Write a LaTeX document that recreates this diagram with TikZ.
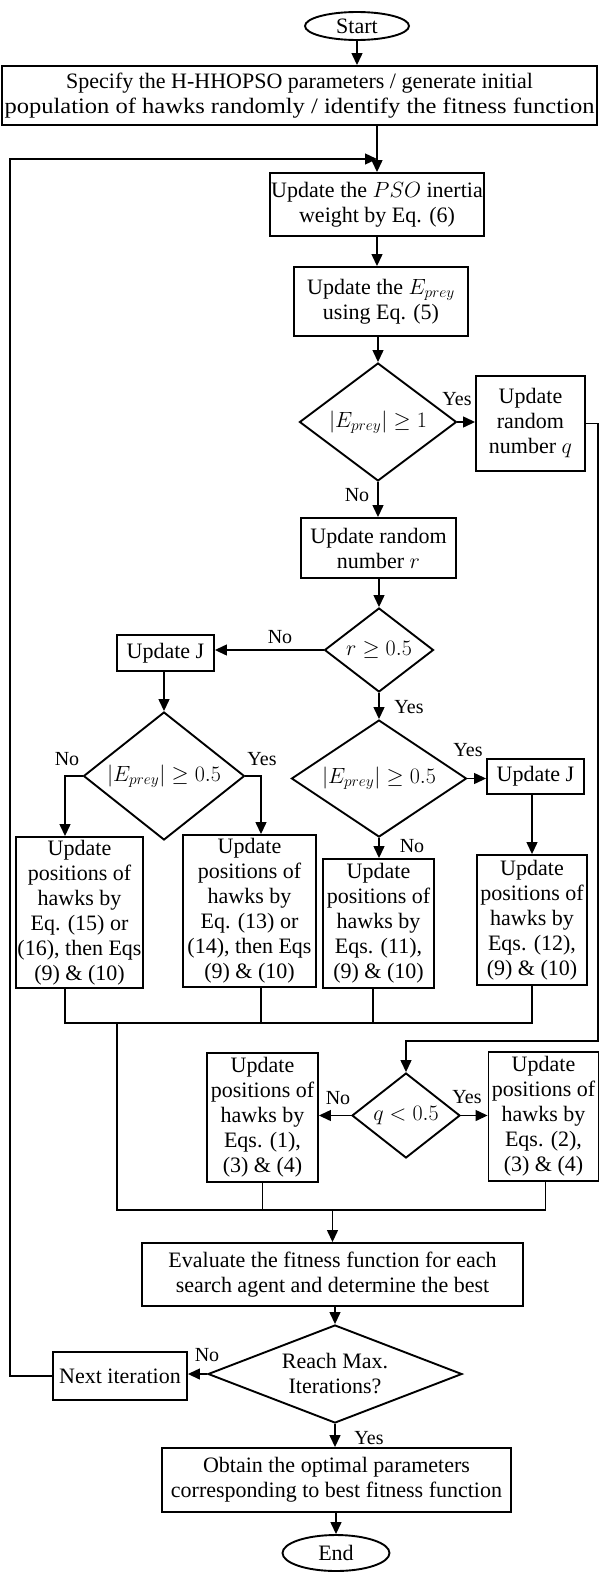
\RequirePackage{fix-cm}
\documentclass[tikz,border=0pt]{standalone}
\usepackage{fontspec}
\setmainfont{Liberation Serif}
\usetikzlibrary{arrows.meta,shapes.geometric}
\tikzset{
  block/.style={draw, line width=1.9pt, align=center, inner sep=1pt,
                font=\fontsize{22}{25}\selectfont},
  decision/.style={draw, diamond, line width=1.9pt, inner sep=0pt, align=center,
                   font=\fontsize{22}{25}\selectfont},
  terminal/.style={draw, ellipse, line width=1.9pt, inner sep=0pt,
                   font=\fontsize{22}{25}\selectfont},
  arrow/.style={-{Triangle[length=12pt,width=11pt]}, line width=1.3pt},
  link/.style={line width=1.3pt},
  lbl/.style={inner sep=0pt, font=\fontsize{20}{22}\selectfont}
}

\begin{document}
\begin{tikzpicture}[x=1pt,y=-1pt]
  \useasboundingbox (0,0) rectangle (599,1574);

  % top part
  \node[terminal, minimum width=104pt, minimum height=28pt] (start) at (357,26) {Start};
  \node[block, minimum width=595pt, minimum height=59pt] (spec) at (299.5,95.5)
    {Specify the H-HHOPSO parameters / generate initial\\
     \scalebox{1.115}[1]{population of hawks randomly / identify the fitness function}};
  \node[block, minimum width=212pt, minimum height=63pt] (pso) at (377,204.5)
    {Update the $PSO$ inertia\\weight by Eq. (6)};
  \node[block, minimum width=174pt, minimum height=69pt] (eprey) at (381,301.5)
    {Update the $E_{prey}$\\using Eq. (5)};
  \node[decision, aspect=1.33, minimum width=157pt, minimum height=118pt] (d1) at (378,422)
    {$\left|E_{prey}\right|\geq 1$};
  \node[block, minimum width=109pt, minimum height=95pt] (qbox) at (530.5,423.5)
    {Update\\random\\number $q$};
  \node[block, minimum width=155pt, minimum height=60pt] (rbox) at (378.5,548)
    {Update random\\number $r$};
  \node[decision, aspect=1.3, minimum width=109pt, minimum height=84pt] (d2) at (379,650)
    {$r\geq 0.5$};

  % r < 0.5 and r >= 0.5 branches
  \node[block, minimum width=97pt, minimum height=36pt] (j1) at (165.5,653) {Update J};
  \node[decision, aspect=1.26, minimum width=161pt, minimum height=128pt] (d3) at (164,776)
    {$\left|E_{prey}\right|\geq 0.5$};
  \node[decision, aspect=1.5, minimum width=175pt, minimum height=117pt] (d4) at (379,778.5)
    {$\left|E_{prey}\right|\geq 0.5$};
  \node[block, minimum width=97pt, minimum height=35pt] (j2) at (535.5,776.5) {Update J};

  \node[block, minimum width=127pt, minimum height=151pt] (boxA) at (79.5,912.5)
    {Update\\positions of\\hawks by\\Eq. (15) or\\(16), then Eqs\\(9) \& (10)};
  \node[block, minimum width=133pt, minimum height=152pt] (boxB) at (249.5,911)
    {Update\\positions of\\hawks by\\Eq. (13) or\\(14), then Eqs\\(9) \& (10)};
  \node[block, minimum width=111pt, minimum height=129pt] (boxC) at (378.5,923.5)
    {Update\\positions of\\hawks by\\Eqs. (11),\\(9) \& (10)};
  \node[block, minimum width=110pt, minimum height=130pt] (boxD) at (532,920)
    {Update\\positions of\\hawks by\\Eqs. (12),\\(9) \& (10)};

  % q branch
  \node[decision, aspect=1.27, minimum width=108pt, minimum height=85pt] (d5) at (406,1115.5)
    {$q<0.5$};
  \node[block, minimum width=111pt, minimum height=129pt] (boxE) at (262.5,1117.5)
    {Update\\positions of\\hawks by\\Eqs. (1),\\(3) \& (4)};
  \node[block, minimum width=110pt, minimum height=129pt] (boxF) at (543.5,1116.5)
    {Update\\positions of\\hawks by\\Eqs. (2),\\(3) \& (4)};

  % bottom part
  \node[block, minimum width=381pt, minimum height=63pt] (eval) at (332.5,1274.5)
    {Evaluate the fitness function for each\\search agent and determine the best};
  \node[decision, aspect=2.6, minimum width=254pt, minimum height=98pt] (d6) at (335,1374)
    {Reach Max.\\Iterations?};
  \node[block, minimum width=134pt, minimum height=48pt] (next) at (120,1376) {Next iteration};
  \node[block, minimum width=349pt, minimum height=64pt] (obtain) at (336.5,1480)
    {Obtain the optimal parameters\\corresponding to best fitness function};
  \node[terminal, minimum width=107pt, minimum height=36pt] (end) at (336,1553) {End};

  % labels
  \node[lbl] (yes1) at (457,399) {Yes};
  \node[lbl] (no1) at (357,495) {No};
  \node[lbl] (no2) at (280,637) {No};
  \node[lbl] (yes2) at (409,707) {Yes};
  \node[lbl] (no3) at (67,759) {No};
  \node[lbl] (yes3) at (262,759) {Yes};
  \node[lbl] (yes4) at (468,750) {Yes};
  \node[lbl] (no4) at (412,846) {No};
  \node[lbl] (no5) at (338,1098) {No};
  \node[lbl] (yes5) at (467,1097) {Yes};
  \node[lbl] (no6) at (207,1355) {No};
  \node[lbl] (yes6) at (369,1438) {Yes};

  \coordinate (loopL) at (10,159);
  \coordinate (qturn) at (598,1041);
  \coordinate (bus1) at (117,1023);
  \coordinate (bus2) at (117,1210);

  % connectors
  \draw[arrow] (start.south) -- (start.south |- spec.north);
  \draw[arrow] (pso.north |- spec.south) -- (pso.north);
  \draw[arrow] (next.west) -| (loopL) -- (loopL -| pso.north);
  \draw[arrow] (pso.south) -- (pso.south |- eprey.north);
  \draw[arrow] (eprey.south -| d1.north) -- (d1.north);
  \draw[arrow] (d1.east) -- (d1.east -| qbox.west);
  \draw[arrow] (d1.south) -- (d1.south |- rbox.north);
  \draw[arrow] (rbox.south -| d2.north) -- (d2.north);
  \draw[arrow] (d2.west) -- (d2.west -| j1.east);
  \draw[arrow] (j1.south -| d3.north) -- (d3.north);
  \draw[arrow] (d2.south) -- (d4.north);
  \draw[arrow] (d3.west) -| ([xshift=-14.5pt]boxA.north);
  \draw[arrow] (d3.east) -| ([xshift=11.5pt]boxB.north);
  \draw[arrow] (d4.east) -- (d4.east -| j2.west);
  \draw[arrow] (d4.south) -- (d4.south |- boxC.north);
  \draw[arrow] (j2.south -| boxD.north) -- (boxD.north);

  \draw[link] ([xshift=-14.5pt]boxA.south) |- (bus1 -| boxD.south) -- (boxD.south);
  \draw[link] ([xshift=11.5pt]boxB.south) -- ([xshift=11.5pt]boxB.south |- bus1);
  \draw[link] ([xshift=-5.5pt]boxC.south) -- ([xshift=-5.5pt]boxC.south |- bus1);
  \draw[link] (bus1) -- (bus2) -| ([xshift=2pt]boxF.south);
  \draw[link] (boxE.south) -- (boxE.south |- bus2);

  \draw[arrow] (qbox.east) -| (qturn) -| (d5.north);
  \draw[arrow] (d5.west) -- (d5.west -| boxE.east);
  \draw[arrow] (d5.east) -- (d5.east -| boxF.west);

  \draw[arrow] (bus2 -| eval.north) -- (eval.north);
  \draw[arrow] (eval.south -| d6.north) -- (d6.north);
  \draw[arrow] (d6.west) -- (d6.west -| next.east);
  \draw[arrow] (d6.south) -- (d6.south |- obtain.north);
  \draw[arrow] (obtain.south -| end.north) -- (end.north);
\end{tikzpicture}
\end{document}
